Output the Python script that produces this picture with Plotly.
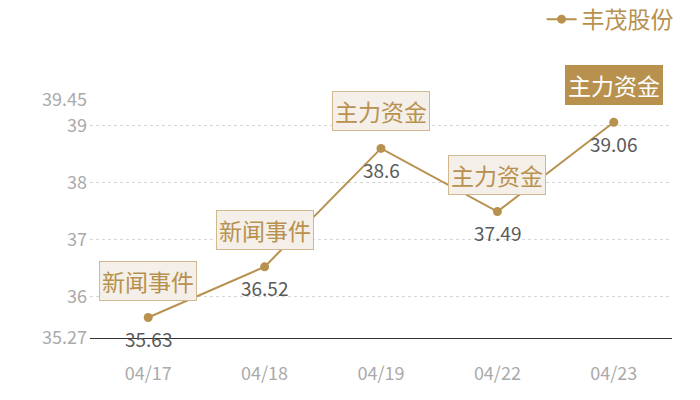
import plotly.graph_objects as go

dates = ["04/17", "04/18", "04/19", "04/22", "04/23"]
prices = [35.63, 36.52, 38.6, 37.49, 39.06]
events = ["新闻事件", "新闻事件", "主力资金", "主力资金", "主力资金"]
series_name = "丰茂股份"
y_ticks = [35.27, 36, 37, 38, 39, 39.45]
y_min, y_max = 35.27, 39.45

GOLD = "#b8914f"
FONT = "Noto Sans CJK SC"

fig = go.Figure()
fig.add_trace(go.Scatter(
    x=dates, y=prices, mode="lines+markers", name=series_name,
    line=dict(color=GOLD, width=2),
    marker=dict(color=GOLD, size=9),
    cliponaxis=False,
))

annotations = []
for i, (d, p, e) in enumerate(zip(dates, prices, events)):
    last = i == len(dates) - 1
    annotations.append(dict(
        x=d, y=p, xref="x", yref="y", text=e, showarrow=False,
        yshift=37,
        font=dict(family=FONT, size=23, color="#ffffff" if last else GOLD),
        bgcolor=GOLD if last else "#f4efe8",
        bordercolor=GOLD if last else "#d2b88f",
        borderwidth=1, borderpad=2,
    ))
    annotations.append(dict(
        x=d, y=p, xref="x", yref="y", text=str(p), showarrow=False,
        yshift=-21,
        font=dict(family=FONT, size=19, color="#5a5a5a"),
    ))

fig.update_layout(
    width=700, height=400,
    margin=dict(l=82, r=36, t=92, b=70),
    paper_bgcolor="white", plot_bgcolor="white",
    font=dict(family=FONT),
    showlegend=True,
    legend=dict(orientation="h", xref="container", yref="container",
                x=0.958, xanchor="right", y=0.972, yanchor="middle",
                font=dict(family=FONT, size=23, color=GOLD),
                bgcolor="rgba(0,0,0,0)", borderwidth=0),
    annotations=annotations,
    xaxis=dict(
        type="category", range=[-0.5, 4.5],
        showgrid=False, showline=True, linecolor="#333333", linewidth=1,
        ticks="", tickfont=dict(family=FONT, size=18, color="#aaaaaa"),
        ticklabelstandoff=19, zeroline=False, automargin=False,
    ),
    yaxis=dict(
        range=[y_min, y_max], tickvals=y_ticks,
        ticktext=[str(v) for v in y_ticks],
        showgrid=True, gridcolor="#d6d6d6", griddash="dot", gridwidth=1,
        showline=False, zeroline=False, ticks="",
        tickfont=dict(family=FONT, size=18, color="#aaaaaa"),
        ticklabelstandoff=2, automargin=False,
    ),
)

fig.write_html("out.html")
